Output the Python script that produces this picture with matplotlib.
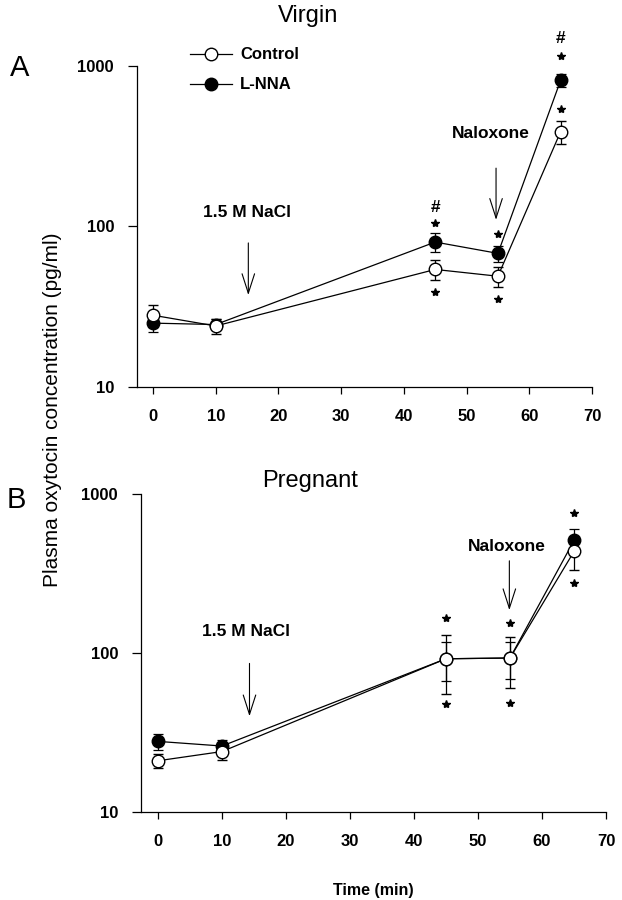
import matplotlib
matplotlib.use('Agg')
import matplotlib.pyplot as plt
from matplotlib.lines import Line2D
from matplotlib.transforms import offset_copy

plt.rcParams['font.family'] = ['Liberation Sans', 'DejaVu Sans']

# ---------------- data ----------------
time = [0, 10, 45, 55, 65]
xticks = [0, 10, 20, 30, 40, 50, 60, 70]
yticks = [10, 100, 1000]
ytick_labels = ['10', '100', '1000']
series_names = ['Control', 'L-NNA']

virgin_control = [28, 24, 54, 49, 390]
virgin_control_err = [4.5, 2.5, 7.5, 7, 65]
virgin_lnna = [25, 24.5, 80, 68, 815]
virgin_lnna_err = [3, 2, 11, 8, 80]

preg_control = [21, 24, 92, 93, 435]
preg_control_err = [2, 2.7, 37, 33, 100]
preg_lnna = [27.8, 26, 92, 93, 510]
preg_lnna_err = [3.2, 2.2, 25, 24, 95]

# significance marks: (time index, series, side, symbol, offset px)
virgin_marks = [
    (2, 'lnna', 'above', '*', 10), (2, 'lnna', 'above', '#', 26),
    (2, 'control', 'below', '*', 12),
    (3, 'lnna', 'above', '*', 12), (3, 'control', 'below', '*', 12),
    (4, 'lnna', 'above', '*', 18), (4, 'lnna', 'above', '#', 35),
    (4, 'control', 'above', '*', 12),
]
preg_marks = [
    (2, 'control', 'above', '*', 17), (2, 'control', 'below', '*', 10),
    (3, 'control', 'above', '*', 14), (3, 'control', 'below', '*', 15),
    (4, 'lnna', 'above', '*', 16), (4, 'control', 'below', '*', 13),
]

# annotations: (label, text x, text y, arrow x, arrow top, arrow tip)
virgin_notes = [('1.5 M NaCl', 15, 123, 15.2, 79, 37.4),
                ('Naloxone', 53.9, 377, 54.7, 231, 110)]
preg_notes = [('1.5 M NaCl', 13.8, 137, 14.3, 86, 40),
              ('Naloxone', 54.5, 470, 54.9, 380, 186)]

W, H = 622, 900
fig = plt.figure(figsize=(W / 100, H / 100), dpi=100)


def frac(l, t, r, b):
    return [l / W, 1 - b / H, (r - l) / W, (b - t) / H]


def panel(rect, xlim, ctrl, ctrl_err, lnna, lnna_err, marks, notes):
    ax = fig.add_axes(rect)
    ax.set_yscale('log')
    ax.set_ylim(10, 1000)
    ax.set_xlim(*xlim)
    lw = 0.9
    ax.errorbar(time, lnna, yerr=lnna_err, fmt='-o', color='black', mfc='black',
                mec='black', ms=9, lw=lw, elinewidth=lw, capsize=3.6, capthick=lw,
                zorder=3, clip_on=False)
    ax.errorbar(time, ctrl, yerr=ctrl_err, fmt='-o', color='black', mfc='white',
                mec='black', ms=9, mew=1.0, lw=lw, elinewidth=lw, capsize=3.6,
                capthick=lw, zorder=4, clip_on=False)
    for s in ['top', 'right']:
        ax.spines[s].set_visible(False)
    for s in ['left', 'bottom']:
        ax.spines[s].set_linewidth(0.9)
    ax.set_xticks(xticks)
    ax.set_xticklabels([str(v) for v in xticks], fontsize=12, fontweight='bold')
    ax.set_yticks(yticks)
    ax.set_yticklabels(ytick_labels, fontsize=12, fontweight='bold')
    ax.yaxis.set_minor_locator(matplotlib.ticker.NullLocator())
    ax.tick_params(axis='y', length=6.5, width=0.9, pad=10)
    ax.tick_params(axis='x', length=5, width=0.9, pad=11)

    vals = {'control': (ctrl, ctrl_err), 'lnna': (lnna, lnna_err)}
    for idx, ser, side, sym, off in marks:
        v, e = vals[ser]
        if side == 'above':
            y = v[idx] + e[idx]
            dy = off
        else:
            y = v[idx] - e[idx]
            dy = -off
        tr = offset_copy(ax.transData, fig=fig, x=0, y=dy, units='dots')
        if sym == '*':
            ax.plot([time[idx]], [y], marker='*', ms=6, color='black',
                    transform=tr, clip_on=False, zorder=5)
        else:
            ax.text(time[idx], y, sym, transform=tr, ha='center', va='center',
                    fontsize=12.5, fontweight='bold', clip_on=False)
    for label, tx, ty, ax_x, a_top, a_tip in notes:
        ax.text(tx, ty, label, ha='center', va='center', fontsize=12.5,
                fontweight='bold')
        ax.annotate('', xy=(ax_x, a_tip), xytext=(ax_x, a_top),
                    arrowprops=dict(arrowstyle='->,head_length=1.4,head_width=0.45',
                                    lw=0.8, color='black', shrinkA=0, shrinkB=0,
                                    mutation_scale=10))
    return ax


ax1 = panel(frac(137, 66, 592, 387), (-2.55, 70), virgin_control, virgin_control_err,
            virgin_lnna, virgin_lnna_err, virgin_marks, virgin_notes)
ax2 = panel(frac(141, 494, 606, 812), (-2.65, 70), preg_control, preg_control_err,
            preg_lnna, preg_lnna_err, preg_marks, preg_notes)

ax2.set_xlabel('Time (min)', fontsize=11.5, fontweight='bold', labelpad=24)

h_ctrl = Line2D([], [], color='black', lw=0.9, marker='o', ms=9, mfc='white', mec='black')
h_lnna = Line2D([], [], color='black', lw=0.9, marker='o', ms=9, mfc='black', mec='black')
fig.legend([h_ctrl, h_lnna], series_names, loc='upper left',
           bbox_to_anchor=(182 / W, 1 - 39 / H), frameon=False, borderpad=0,
           handlelength=2.5, handletextpad=0.5, labelspacing=0.9,
           prop={'size': 12, 'weight': 'bold'})

fig.text(308 / W, 1 - 16 / H, 'Virgin', ha='center', va='center', fontsize=17)
fig.text(310 / W, 1 - 481 / H, 'Pregnant', ha='center', va='center', fontsize=17)
fig.text(20 / W, 1 - 68 / H, 'A', ha='center', va='center', fontsize=21)
fig.text(16 / W, 1 - 500 / H, 'B', ha='center', va='center', fontsize=21)
fig.text(53 / W, 1 - 410 / H, 'Plasma oxytocin concentration (pg/ml)', rotation=90,
         ha='center', va='center', fontsize=15)

fig.savefig('out.png', dpi=100)
